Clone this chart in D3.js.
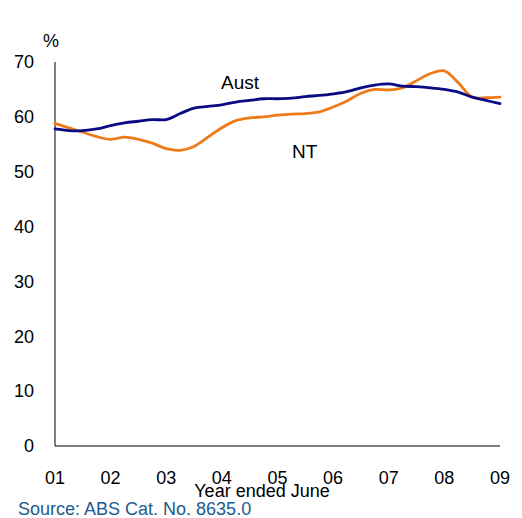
<!DOCTYPE html>
<meta charset="utf-8">
<style>

body { margin: 0; background: #fff; }
text { font-family: "Liberation Sans", Arial, sans-serif; }
.line { fill: none; stroke-width: 2.8px; stroke-linejoin: round; stroke-linecap: round; }

</style>
<svg width="522" height="518"></svg>
<script src="https://cdn.jsdelivr.net/npm/d3@7"></script>
<script>

// quarterly, June 2001 to June 2009
var years = ["01", "02", "03", "04", "05", "06", "07", "08", "09"];
var yTicks = [0, 10, 20, 30, 40, 50, 60, 70];

var aust = [57.8, 57.5, 57.5, 57.8, 58.4, 58.9, 59.2, 59.5, 59.5, 60.6, 61.6,
    61.9, 62.2, 62.7, 63.0, 63.3, 63.3, 63.4, 63.7, 63.9, 64.2, 64.6, 65.3,
    65.8, 66.0, 65.6, 65.5, 65.3, 65.0, 64.5, 63.6, 63.0, 62.4];

var nt = [58.8, 58.0, 57.2, 56.4, 55.9, 56.3, 55.9, 55.2, 54.2, 53.9, 54.6,
    56.3, 58.0, 59.3, 59.8, 60.0, 60.3, 60.5, 60.6, 60.9, 61.8, 62.9, 64.3,
    65.0, 64.9, 65.3, 66.6, 67.9, 68.4, 66.2, 63.6, 63.5, 63.6];

var svg = d3.select("svg");

var x = d3.scaleLinear().domain([0, 32]).range([55, 500]),
    y = d3.scaleLinear().domain([0, 70]).range([446, 62]);

// axes
svg.append("line")
    .attr("x1", x(0)).attr("x2", x(0))
    .attr("y1", y(0)).attr("y2", y(70))
    .attr("stroke", "#000").attr("stroke-width", 1);

svg.append("line")
    .attr("x1", x(0)).attr("x2", x(32))
    .attr("y1", y(0)).attr("y2", y(0))
    .attr("stroke", "#000").attr("stroke-width", 1);

svg.selectAll(".ytick")
  .data(yTicks)
  .enter().append("text")
    .attr("class", "ytick")
    .attr("x", 34)
    .attr("y", function(d) { return y(d); })
    .attr("dy", "0.35em")
    .attr("text-anchor", "end")
    .attr("font-size", 18)
    .text(function(d) { return d; });

svg.selectAll(".xtick")
  .data(years)
  .enter().append("text")
    .attr("class", "xtick")
    .attr("x", function(d, i) { return x(i * 4); })
    .attr("y", 484)
    .attr("text-anchor", "middle")
    .attr("font-size", 18)
    .text(function(d) { return d; });

svg.append("text")
    .attr("x", 43).attr("y", 47)
    .attr("font-size", 18)
    .text("%");

svg.append("text")
    .attr("x", 262).attr("y", 497)
    .attr("text-anchor", "middle")
    .attr("font-size", 18)
    .text("Year ended June");

svg.append("text")
    .attr("x", 18).attr("y", 515)
    .attr("font-size", 18)
    .attr("fill", "#1d5a8e")
    .text("Source: ABS Cat. No. 8635.0");

// lines
var line = d3.line()
    .x(function(d, i) { return x(i); })
    .y(function(d) { return y(d); })
    .curve(d3.curveCatmullRom);

svg.append("path").datum(nt)
    .attr("class", "line")
    .attr("stroke", "#ee7b1a")
    .attr("d", line);

svg.append("path").datum(aust)
    .attr("class", "line")
    .attr("stroke", "#0a0a84")
    .attr("d", line);

svg.append("text")
    .attr("x", 221).attr("y", 89)
    .attr("font-size", 19)
    .text("Aust");

svg.append("text")
    .attr("x", 292).attr("y", 158)
    .attr("font-size", 19)
    .text("NT");

</script>
